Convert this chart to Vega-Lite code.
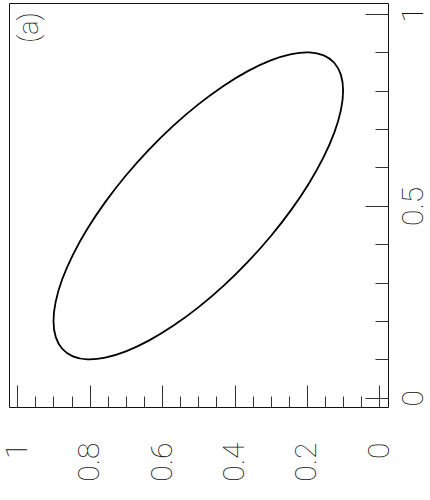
{
  "$schema": "https://vega.github.io/schema/vega-lite/v6.json",
  "width": 379,
  "height": 404,
  "autosize": "none",
  "padding": {"left": 9, "top": 3, "right": 42, "bottom": 93},
  "background": "white",
  "config": {
    "view": {"stroke": "#111", "strokeWidth": 1},
    "axis": {"domain": false, "grid": false, "labelFont": "Roboto", "labelFontWeight": 100, "labelFontSize": 30, "labelColor": "#111", "tickColor": "#333", "tickWidth": 1, "title": null}
  },
  "resolve": {"axis": {"x": "independent", "y": "independent"}},
  "layer": [
    {
      "data": {"values": [
        {"i": 0, "h": 0.9, "v": 0.2},
        {"i": 1, "h": 0.8939, "v": 0.2505},
        {"i": 2, "h": 0.8759, "v": 0.3086},
        {"i": 3, "h": 0.8464, "v": 0.3725},
        {"i": 4, "h": 0.8064, "v": 0.4403},
        {"i": 5, "h": 0.7571, "v": 0.5098},
        {"i": 6, "h": 0.7, "v": 0.5791},
        {"i": 7, "h": 0.6368, "v": 0.646},
        {"i": 8, "h": 0.5695, "v": 0.7085},
        {"i": 9, "h": 0.5, "v": 0.7646},
        {"i": 10, "h": 0.4305, "v": 0.8127},
        {"i": 11, "h": 0.3632, "v": 0.8512},
        {"i": 12, "h": 0.3, "v": 0.8791},
        {"i": 13, "h": 0.2429, "v": 0.8955},
        {"i": 14, "h": 0.1936, "v": 0.8999},
        {"i": 15, "h": 0.1536, "v": 0.8921},
        {"i": 16, "h": 0.1241, "v": 0.8724},
        {"i": 17, "h": 0.1061, "v": 0.8414},
        {"i": 18, "h": 0.1, "v": 0.8},
        {"i": 19, "h": 0.1061, "v": 0.7495},
        {"i": 20, "h": 0.1241, "v": 0.6914},
        {"i": 21, "h": 0.1536, "v": 0.6275},
        {"i": 22, "h": 0.1936, "v": 0.5597},
        {"i": 23, "h": 0.2429, "v": 0.4902},
        {"i": 24, "h": 0.3, "v": 0.4209},
        {"i": 25, "h": 0.3632, "v": 0.354},
        {"i": 26, "h": 0.4305, "v": 0.2915},
        {"i": 27, "h": 0.5, "v": 0.2354},
        {"i": 28, "h": 0.5695, "v": 0.1873},
        {"i": 29, "h": 0.6368, "v": 0.1488},
        {"i": 30, "h": 0.7, "v": 0.1209},
        {"i": 31, "h": 0.7571, "v": 0.1045},
        {"i": 32, "h": 0.8064, "v": 0.1001},
        {"i": 33, "h": 0.8464, "v": 0.1079},
        {"i": 34, "h": 0.8759, "v": 0.1276},
        {"i": 35, "h": 0.8939, "v": 0.1586}
      ]},
      "mark": {"type": "line", "interpolate": "cardinal-closed", "stroke": "black", "strokeWidth": 1.8},
      "encoding": {
        "x": {
          "field": "h", "type": "quantitative",
          "scale": {"domain": [-0.024, 1.0229], "reverse": true, "zero": false, "nice": false},
          "axis": {
            "orient": "bottom",
            "values": [0, 0.2, 0.4, 0.6, 0.8, 1],
            "tickSize": -22,
            "labelExpr": "toString(round(datum.value*10)/10)",
            "labelAngle": 270, "labelAlign": "right", "labelBaseline": "middle",
            "labelPadding": 57, "labelFlush": false, "labelOverlap": false
          }
        },
        "y": {
          "field": "v", "type": "quantitative",
          "scale": {"domain": [-0.0242, 1.0287], "zero": false, "nice": false},
          "axis": {
            "orient": "right",
            "values": [0, 0.5, 1],
            "tickSize": -23,
            "labelExpr": "toString(round(datum.value*10)/10)",
            "labelAngle": 270, "labelAlign": "center", "labelBaseline": "top",
            "labelPadding": 33, "labelFlush": false, "labelOverlap": false
          }
        },
        "order": {"field": "i", "type": "quantitative"}
      }
    },
    {
      "data": {"values": [{"label": "(a)", "h": 0.966, "v": 0.965}]},
      "mark": {"type": "text", "angle": 270, "font": "Roboto", "fontWeight": 100, "fontSize": 27, "color": "#111", "align": "center", "baseline": "middle"},
      "encoding": {
        "text": {"field": "label", "type": "nominal"},
        "x": {
          "field": "h", "type": "quantitative",
          "axis": {
            "orient": "bottom",
            "values": [0.05, 0.1, 0.15, 0.25, 0.3, 0.35, 0.45, 0.5, 0.55, 0.65, 0.7, 0.75, 0.85, 0.9, 0.95],
            "tickSize": -11, "labels": false
          }
        },
        "y": {
          "field": "v", "type": "quantitative",
          "axis": {
            "orient": "right",
            "values": [0.1, 0.2, 0.3, 0.4, 0.6, 0.7, 0.8, 0.9],
            "tickSize": -13, "labels": false
          }
        }
      }
    }
  ]
}
